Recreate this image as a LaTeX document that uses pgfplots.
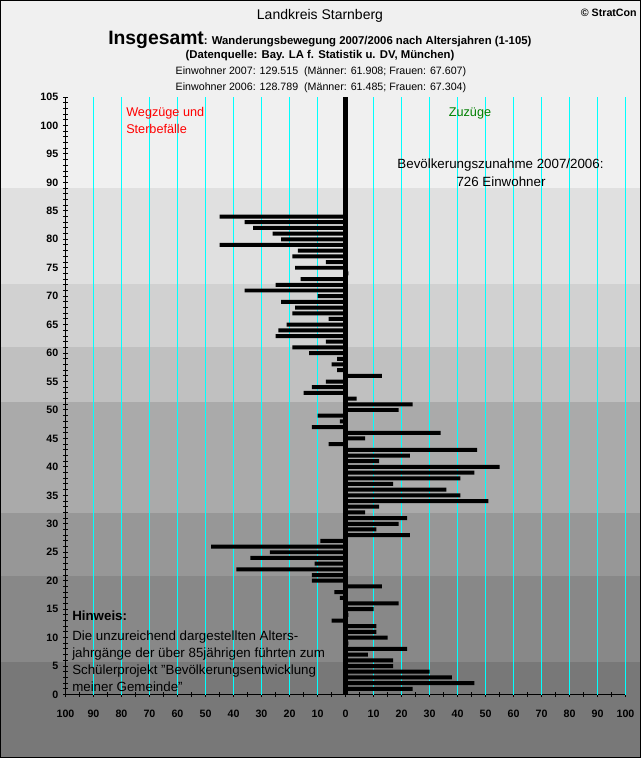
\documentclass[border=0pt]{standalone}
\usepackage{fontspec}
\setmainfont{Liberation Sans}
\usepackage{pgfplots}
\pgfplotsset{compat=1.18}
\definecolor{bA}{HTML}{F0F0F0}
\definecolor{bB}{HTML}{E0E0E0}
\definecolor{bC}{HTML}{D1D1D1}
\definecolor{bD}{HTML}{C0C0C0}
\definecolor{bE}{HTML}{AAAAAA}
\definecolor{bF}{HTML}{979797}
\definecolor{bG}{HTML}{888888}
\definecolor{bH}{HTML}{787878}
\definecolor{gridc}{RGB}{0,255,255}
\definecolor{zgreen}{HTML}{008000}
\begin{document}
\begin{tikzpicture}
\begin{scope}[x=0.75pt,y=-0.75pt,shift={(-65.5,-694.5)}]
 \fill[bA] (0,0) rectangle (641,188);
 \fill[bB] (0,188) rectangle (641,284);
 \fill[bC] (0,284) rectangle (641,347);
 \fill[bD] (0,347) rectangle (641,402);
 \fill[bE] (0,402) rectangle (641,513);
 \fill[bF] (0,513) rectangle (641,576);
 \fill[bG] (0,576) rectangle (641,662);
 \fill[bH] (0,662) rectangle (641,758);
 \draw[black, line width=0.75pt] (0.5,0.5) rectangle (640.5,757.5);
\end{scope}
\begin{axis}[
  anchor=south west, at={(0,0)},
  x=2.1pt, y=4.2675pt,
  xmin=-100, xmax=100, ymin=0, ymax=105,
  axis x line*=bottom, axis y line*=left,
  axis line style={black, line width=0.75pt},
  tick align=center,
  tick style={black, line width=0.75pt},
  major tick length=3.75pt, minor tick length=3.75pt,
  xtick={-100,-90,...,100}, minor x tick num=1,
  xticklabels={100,90,80,70,60,50,40,30,20,10,0,10,20,30,40,50,60,70,80,90,100},
  ytick={0,5,...,105}, minor y tick num=4,
  ticklabel style={font=\bfseries\fontsize{8}{9.6}\selectfont},
  xticklabel style={yshift=-6pt},
  /pgf/number format/assume math mode=true,
  clip=false,
]
\pgfplotsinvokeforeach{-90,-80,-70,-60,-50,-40,-30,-20,-10,10,20,30,40,50,60,70,80,90,100}{
  \addplot[draw=gridc, line width=0.75pt, forget plot] coordinates {(#1,0) (#1,105)};
}
\addplot[xbar, bar width=0.7, fill=black, draw=none] coordinates {
(24,1) (46,2) (38,3) (30,4) (17,5) (17,6) (8,7) (22,8) (1,9) (15,10)
(11,11) (11,12) (-5,13) (1,14) (10,15) (19,16) (-2,17) (-4,18) (13,19) (-12,20)
(-12,21) (-39,22) (-11,23) (-34,24) (-27,25) (-48,26) (-9,27) (23,28) (11,29) (19,30)
(22,31) (7,32) (12,33) (51,34) (41,35) (36,36) (17,37) (41,38) (46,39) (55,40)
(12,41) (23,42) (47,43) (-6,44) (7,45) (34,46) (-12,47) (-2,48) (-10,49) (19,50)
(24,51) (4,52) (-15,53) (-12,54) (-7,55) (13,56) (-3,57) (-5,58) (-3,59) (-13,60)
(-19,61) (-7,62) (-25,63) (-24,64) (-21,65) (-6,66) (-19,67) (-18,68) (-23,69) (-10,70)
(-36,71) (-25,72) (-16,73) (1,74) (-18,75) (-7,76) (-19,77) (-17,78) (-45,79) (-23,80)
(-26,81) (-33,82) (-36,83) (-45,84)
};
\addplot[black, line width=3.75pt] coordinates {(0,0) (0,105)};
\end{axis}
\begin{scope}[x=0.75pt,y=-0.75pt,shift={(-65.5,-694.5)}]
 \node[font=\fontsize{10.5}{12}\selectfont] at (320,16) {Landkreis Starnberg};
 \node[anchor=east, inner sep=0pt, font=\bfseries\fontsize{8}{9}\selectfont] at (637,13) {© StratCon};
 \node[anchor=base west, inner sep=0pt] at (108,45) {{\fontsize{14.5}{16}\bfseries Insgesamt}{\fontsize{8.5}{10}\bfseries: Wanderungsbewegung 2007/2006 nach Altersjahren (1-105)}};
 \node[font=\bfseries\fontsize{8.5}{10}\selectfont] at (320,56) {(Datenquelle: Bay. LA f. Statistik u. DV, München)};
 \node[font=\fontsize{8}{9}\selectfont] at (321,72) {Einwohner 2007: 129.515~ (Männer: 61.908; Frauen: 67.607)};
 \node[font=\fontsize{8}{9}\selectfont] at (321,88) {Einwohner 2006: 128.789~ (Männer: 61.485; Frauen: 67.304)};
 \node[anchor=west, inner sep=0pt, text=red, font=\fontsize{9.5}{11}\selectfont] at (126,113) {Wegzüge und};
 \node[anchor=west, inner sep=0pt, text=red, font=\fontsize{9.5}{11}\selectfont] at (126,129) {Sterbefälle};
 \node[text=zgreen, font=\fontsize{9.5}{11}\selectfont] at (470,113) {Zuzüge};
 \node[font=\fontsize{10}{12}\selectfont] at (500.5,165) {Bevölkerungszunahme 2007/2006:};
 \node[font=\fontsize{10}{12}\selectfont] at (501,182) {726 Einwohner};
 \node[anchor=base west, inner sep=0pt, font=\bfseries\fontsize{10}{12}\selectfont] at (72,621) {Hinweis:};
 \node[anchor=base west, inner sep=0pt, font=\fontsize{10}{12}\selectfont] at (72,640.5) {Die unzureichend dargestellten Alters-};
 \node[anchor=base west, inner sep=0pt, font=\fontsize{10}{12}\selectfont] at (72,657.5) {jahrgänge der über 85jährigen führten zum};
 \node[anchor=base west, inner sep=0pt, font=\fontsize{10}{12}\selectfont] at (72,674.5) {Schülerprojekt "Bevölkerungsentwicklung};
 \node[anchor=base west, inner sep=0pt, font=\fontsize{10}{12}\selectfont] at (72,691.5) {meiner Gemeinde"};
\end{scope}
\end{tikzpicture}
\end{document}
